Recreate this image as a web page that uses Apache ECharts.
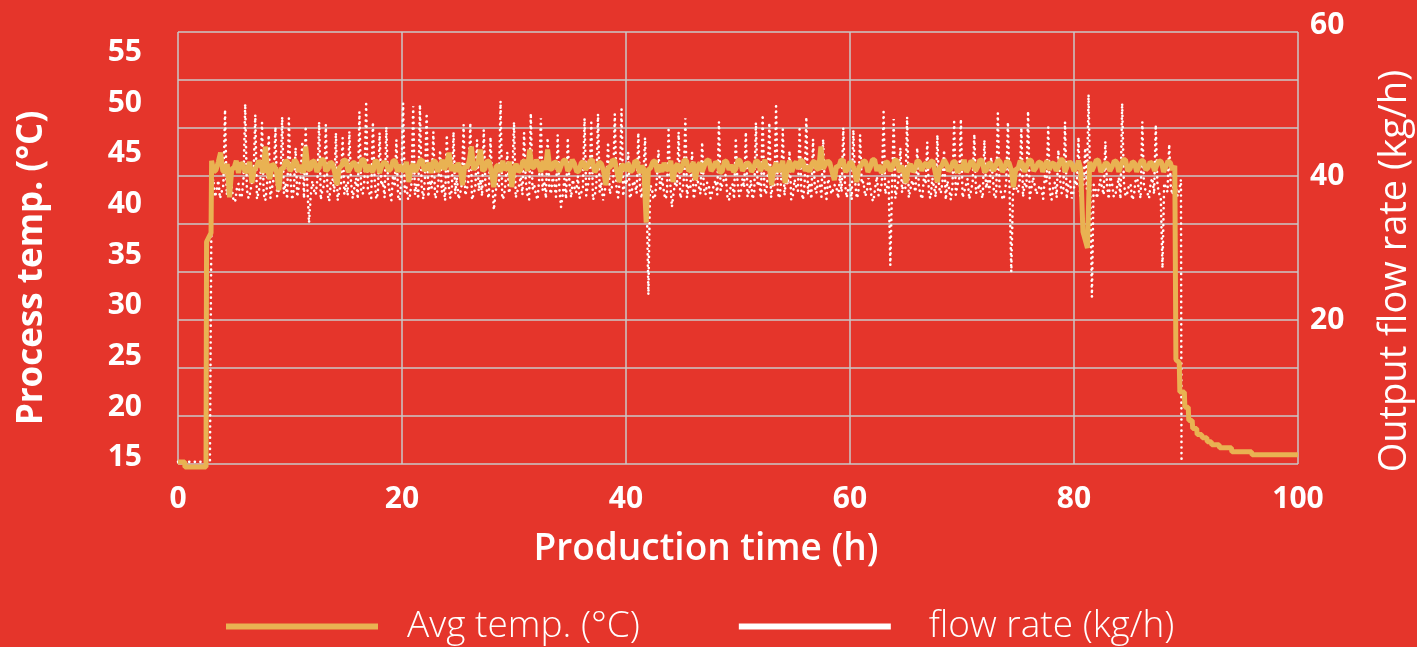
<!DOCTYPE html>
<html>
<head>
<meta charset="utf-8">
<title>Process temperature and output flow rate</title>
<script src="https://cdn.jsdelivr.net/npm/echarts@6/dist/echarts.min.js"></script>
<style>
    html, body { margin: 0; padding: 0; background: #e5352b; }
    #chart { width: 1417px; height: 647px; }
</style>
</head>
<body>
<div id="chart"></div>
<script>
// Avg temp. (°C): startup steps, regular plateau samples, shutdown steps
const tempStartup = [[0, 14.6], [0.6, 14.6], [0.62, 14.1], [2.5, 14.1], [2.55, 36.3], [2.95, 37.2]];
const TEMP_T0 = 3.0;   // h, first plateau sample
const TEMP_DT = 0.2;   // h between plateau samples
const tempPlateau = [
    44.3, 43.2, 43.4, 44.2, 45.1, 43.3, 43.2, 44.0, 40.7, 43.5, 43.6, 44.3, 43.1, 44.1, 43.9, 43.2, 43.3, 44.2, 42.1, 43.4,
    43.7, 44.3, 44.0, 43.1, 45.7, 43.4, 42.5, 44.0, 43.8, 43.2, 41.4, 43.6, 43.5, 44.3, 44.2, 43.3, 43.6, 44.4, 44.1, 43.2,
    43.9, 43.1, 45.7, 43.5, 43.4, 44.3, 44.2, 43.2, 43.7, 44.4, 44.4, 43.3, 43.5, 44.2, 44.0, 43.1, 41.9, 43.6, 43.8, 44.4,
    44.3, 43.2, 43.6, 44.1, 44.1, 43.3, 43.4, 44.4, 44.4, 43.2, 43.9, 43.4, 43.2, 44.3, 44.2, 43.1, 43.8, 44.2, 44.0, 43.3,
    43.5, 44.3, 44.3, 43.2, 43.9, 43.4, 43.3, 44.2, 42.2, 43.6, 44.0, 43.2, 43.7, 44.3, 44.4, 43.3, 43.6, 44.1, 43.1, 44.3,
    44.2, 43.2, 43.8, 44.4, 43.4, 44.1, 45.1, 43.3, 43.9, 43.2, 44.1, 43.5, 41.9, 43.8, 43.6, 44.3, 45.7, 43.4, 43.8, 44.2,
    45.4, 43.3, 43.5, 44.3, 44.2, 43.1, 41.7, 43.7, 43.9, 43.2, 44.3, 43.4, 43.6, 44.2, 41.7, 43.5, 44.0, 43.2, 43.4, 44.3,
    44.2, 43.3, 45.4, 43.6, 43.7, 44.4, 43.9, 43.2, 44.3, 43.4, 45.4, 43.5, 43.5, 44.2, 44.1, 43.2, 43.8, 44.3, 44.4, 43.3,
    43.6, 44.4, 44.0, 43.2, 43.3, 44.1, 44.2, 43.4, 43.8, 44.3, 44.4, 43.2, 43.5, 44.2, 44.0, 43.3, 41.9, 43.6, 43.7, 44.4,
    44.3, 43.2, 42.2, 43.8, 43.9, 43.3, 44.1, 43.2, 43.4, 44.3, 44.2, 43.1, 43.8, 43.5, 38.2, 43.4, 43.6, 44.2, 44.3, 43.2,
    43.9, 43.2, 44.1, 43.4, 43.5, 44.3, 42.2, 43.7, 44.0, 43.2, 43.7, 44.4, 44.3, 43.3, 43.4, 44.2, 42.4, 43.8, 44.1, 43.2,
    43.8, 44.3, 44.4, 43.3, 43.6, 44.2, 44.0, 43.1, 43.3, 44.3, 44.2, 43.4, 43.9, 43.2, 43.5, 44.4, 44.3, 43.3, 43.7, 44.1,
    44.0, 43.2, 43.6, 44.3, 44.2, 43.3, 43.8, 44.4, 43.4, 43.7, 41.9, 43.5, 44.1, 43.2, 43.7, 44.3, 42.1, 43.6, 44.3, 43.2,
    43.9, 44.2, 43.5, 44.4, 44.2, 43.3, 43.8, 43.2, 44.0, 44.3, 43.6, 43.4, 45.7, 43.5, 43.9, 44.3, 44.1, 43.2, 42.4, 43.8,
    43.7, 44.4, 44.3, 43.2, 43.5, 44.2, 44.0, 43.3, 42.2, 43.7, 43.8, 44.3, 44.2, 43.2, 43.6, 44.4, 44.4, 43.3, 43.9, 43.1,
    43.4, 44.2, 44.1, 43.3, 43.7, 44.4, 44.3, 43.2, 43.8, 43.4, 42.1, 43.6, 44.0, 43.2, 43.5, 44.3, 44.2, 43.3, 43.9, 44.1,
    43.6, 44.2, 44.3, 43.2, 42.2, 43.6, 43.8, 44.4, 44.0, 43.3, 43.5, 44.2, 44.2, 43.1, 43.9, 43.4, 44.4, 43.2, 43.6, 44.3,
    44.1, 43.3, 43.7, 44.4, 44.3, 43.2, 43.4, 44.1, 44.0, 43.3, 43.8, 44.4, 44.2, 43.2, 43.6, 44.3, 44.1, 43.4, 41.7, 43.5,
    43.5, 44.3, 44.0, 43.2, 43.8, 44.4, 44.3, 43.3, 43.6, 44.1, 44.2, 43.2, 43.9, 44.3, 43.4, 44.0, 44.1, 43.3, 43.7, 44.4,
    44.4, 43.2, 43.8, 44.2, 44.0, 43.3, 43.6, 44.3, 43.5, 37.3, 36.5, 35.7, 44.2, 43.3, 43.8, 44.4, 44.3, 43.2, 43.6, 44.1,
    44.0, 43.3, 43.7, 44.3, 44.2, 43.2, 43.9, 44.4, 44.4, 43.3, 43.5, 44.2, 44.1, 43.2, 43.8, 44.3, 44.3, 43.4, 43.6, 44.2,
    44.0, 43.3, 43.9, 44.3, 44.2, 43.2, 43.7, 44.3, 44.1, 43.4, 43.8
];
const tempShutdown = [
    [89.1, 24.7], [89.4, 24.4], [89.45, 21.5], [89.85, 21.5], [89.9, 20.0], [90.2, 20.0], [90.25, 18.7],
    [90.55, 18.7], [90.6, 17.9], [90.95, 17.9], [91.0, 17.3], [91.4, 17.3], [91.45, 17.0], [91.85, 17.0],
    [91.9, 16.6], [92.25, 16.6], [92.3, 16.3], [92.95, 16.3], [93.0, 16.0], [94.05, 16.0], [94.1, 15.6],
    [95.85, 15.6], [95.9, 15.3], [100, 15.3]
];

// flow rate (kg/h): startup, regular running samples, stop
const flowStartup = [[0, 0.3], [2.85, 0.3]];
const FLOW_T0 = 3.0;
const FLOW_DT = 0.15;
const flowRun = [
    38.2, 39.6, 37.1, 38.0, 39.4, 36.9, 36.8, 38.7, 49.2, 37.4, 37.6, 39.9, 39.8, 36.7, 36.4, 38.2, 38.9, 37.0, 37.3, 39.5,
    50.0, 38.1, 36.9, 37.7, 39.1, 40.2, 48.5, 36.8, 37.8, 39.0, 47.4, 37.5, 36.6, 38.6, 45.7, 36.9, 38.4, 39.7, 46.8, 37.2,
    37.2, 38.9, 48.2, 37.6, 39.0, 36.8, 48.0, 39.4, 36.7, 38.3, 43.9, 37.1, 38.6, 39.8, 44.8, 36.9, 46.9, 38.5, 33.5, 37.3,
    39.3, 38.0, 37.4, 39.6, 47.5, 36.7, 38.1, 38.8, 47.1, 37.4, 36.5, 39.2, 39.6, 37.8, 46.0, 36.6, 37.9, 38.9, 45.3, 37.5,
    38.8, 37.3, 46.2, 39.1, 36.9, 38.4, 39.7, 36.8, 48.9, 37.9, 37.5, 39.5, 50.0, 38.2, 38.3, 36.9, 47.5, 39.8, 36.8, 37.6,
    46.0, 38.7, 39.2, 37.0, 46.8, 39.3, 37.7, 36.6, 40.1, 38.5, 45.0, 37.2, 36.6, 39.9, 50.1, 37.8, 38.5, 36.7, 37.2, 39.0,
    49.7, 37.4, 38.9, 36.8, 49.9, 38.6, 36.8, 39.7, 48.7, 37.1, 39.4, 38.3, 46.1, 36.9, 37.3, 39.2, 43.6, 37.8, 38.7, 36.6,
    45.7, 39.0, 36.9, 38.1, 46.1, 37.5, 39.8, 36.8, 37.6, 38.9, 47.1, 37.3, 38.2, 39.6, 47.4, 36.7, 36.5, 38.4, 45.0, 37.9,
    39.5, 37.2, 46.4, 38.8, 37.8, 36.9, 45.4, 39.4, 35.3, 37.7, 39.0, 38.5, 50.4, 36.8, 37.1, 39.1, 43.3, 37.6, 38.6, 40.0,
    47.5, 37.0, 36.9, 38.7, 39.9, 37.4, 46.0, 39.3, 37.4, 36.7, 48.7, 38.2, 38.8, 37.5, 36.7, 39.6, 48.0, 38.0, 39.3, 36.9,
    45.3, 38.6, 37.5, 39.8, 38.9, 37.1, 45.7, 38.3, 35.7, 37.4, 39.6, 36.8, 45.3, 38.9, 37.0, 39.5, 38.4, 37.7, 40.0, 36.9,
    36.8, 38.4, 48.0, 37.3, 38.7, 39.9, 47.4, 36.7, 37.2, 38.6, 48.6, 37.8, 39.1, 36.6, 36.6, 39.2, 44.7, 37.5, 38.3, 38.9,
    48.6, 38.1, 37.0, 39.6, 49.3, 37.2, 39.5, 38.8, 43.3, 36.9, 37.7, 39.3, 38.9, 37.6, 46.0, 38.4, 36.9, 39.8, 45.3, 37.1,
    23.5, 38.7, 38.4, 36.8, 37.3, 39.4, 43.6, 37.9, 39.7, 38.2, 36.8, 37.3, 46.4, 39.0, 35.7, 37.7, 39.2, 38.6, 46.1, 36.9,
    37.6, 39.2, 48.0, 37.0, 38.8, 38.5, 43.3, 36.8, 36.7, 39.7, 39.9, 37.5, 44.7, 38.3, 37.4, 39.1, 38.6, 36.9, 36.9, 38.8,
    39.4, 37.4, 47.5, 38.0, 37.8, 39.6, 40.2, 37.2, 36.6, 38.6, 38.9, 36.8, 45.3, 39.3, 37.2, 37.8, 39.6, 38.4, 46.1, 37.1,
    38.0, 39.4, 36.8, 37.7, 47.4, 38.6, 39.3, 36.9, 48.5, 38.2, 37.5, 39.9, 47.4, 37.0, 38.7, 38.4, 49.7, 37.6, 36.9, 39.2,
    46.5, 37.3, 39.8, 38.8, 43.5, 36.7, 37.3, 39.5, 38.5, 37.9, 46.5, 38.1, 36.7, 39.0, 48.2, 37.4, 39.1, 36.8, 45.1, 38.6,
    37.6, 39.3, 38.9, 37.1, 45.1, 38.5, 36.8, 39.6, 39.7, 37.5, 37.4, 38.8, 38.3, 36.9, 40.1, 37.8, 46.7, 39.0, 37.0, 38.3,
    38.8, 36.7, 46.4, 39.4, 36.9, 37.6, 45.7, 38.9, 39.2, 37.2, 37.7, 39.7, 38.6, 36.8, 36.5, 38.4, 39.9, 37.3, 37.9, 39.1,
    48.9, 37.5, 38.4, 39.2, 27.6, 38.1, 47.9, 36.9, 37.1, 39.6, 43.9, 37.7, 39.5, 38.3, 48.2, 37.0, 36.8, 39.4, 38.7, 37.8,
    43.9, 38.6, 37.4, 36.8, 39.8, 38.9, 44.7, 37.3, 36.9, 39.7, 38.5, 37.1, 45.7, 38.4, 37.6, 39.0, 43.6, 36.7, 39.3, 38.2,
    36.7, 38.6, 47.5, 37.4, 38.8, 39.5, 47.9, 37.0, 37.2, 38.7, 39.6, 36.8, 36.6, 39.1, 45.8, 37.6, 38.1, 38.9, 37.5, 36.9,
    45.0, 38.3, 39.4, 37.7, 42.6, 39.8, 36.9, 37.2, 48.7, 38.5, 38.6, 36.7, 37.3, 39.3, 47.5, 38.0, 26.7, 37.5, 39.0, 38.8,
    37.7, 39.4, 46.7, 37.1, 38.9, 38.4, 49.0, 36.9, 36.8, 39.8, 39.7, 37.5, 37.4, 38.7, 38.2, 36.8, 40.0, 39.2, 46.8, 37.7,
    36.7, 38.5, 39.1, 37.0, 43.6, 39.6, 37.6, 38.1, 47.5, 36.8, 38.7, 39.3, 36.9, 37.8, 39.5, 38.6, 45.4, 37.2, 37.3, 39.0,
    43.9, 38.2, 51.3, 37.9, 23.2, 38.8, 38.4, 36.9, 37.0, 39.5, 39.6, 37.4, 44.8, 38.6, 36.8, 39.9, 38.9, 37.1, 37.5, 38.5,
    39.8, 36.8, 50.1, 39.2, 37.2, 37.6, 38.6, 38.9, 36.7, 37.3, 39.4, 39.7, 37.9, 36.9, 47.5, 38.4, 38.3, 37.7, 36.9, 39.1,
    39.7, 37.5, 47.1, 38.7, 37.6, 36.9, 27.2, 39.0, 38.8, 37.8, 44.4, 38.3, 37.4, 39.4, 39.2, 37.2, 38.1
];
const flowStop = [[89.55, 39.5], [89.6, 0.2]];

const xTicks = {min: 0, max: 100, interval: 20};
const tempTicks = [15, 20, 25, 30, 35, 40, 45, 50, 55];
const flowTicks = [20, 40, 60];

const RED = '#e5352b';
const GRID = '#c9c9c9';
const ORANGE = '#e9b252';
const FONT = '"Open Sans", "DejaVu Sans", sans-serif';

const tempData = tempStartup
    .concat(tempPlateau.map((v, i) => [+(TEMP_T0 + i * TEMP_DT).toFixed(2), v]))
    .concat(tempShutdown);
const flowData = flowStartup
    .concat(flowRun.map((v, i) => [+(FLOW_T0 + i * FLOW_DT).toFixed(2), v]))
    .concat(flowStop);

const tickLabel = {color: '#fff', fontSize: 30, fontWeight: 'bold', fontFamily: FONT};

const chart = echarts.init(document.getElementById('chart'));
chart.setOption({
    backgroundColor: RED,
    animation: false,
    textStyle: {fontFamily: FONT},
    // fixed plot box; names may run off the canvas edge like the original
    grid: {left: 178, right: 119, top: 32, bottom: 183, containLabel: false, outerBoundsMode: 'none'},
    legend: {
        left: 221,
        top: 603,
        icon: 'rect',
        itemWidth: 152,
        itemHeight: 6,
        itemGap: 99,
        itemStyle: {borderWidth: 0},
        textStyle: {color: '#fff', fontSize: 37, fontWeight: 300, fontFamily: FONT, padding: [0, 0, 0, 24]},
        data: [
            'Avg temp. (°C)',
            {name: 'flow rate (kg/h)', textStyle: {padding: [0, 0, 0, 33]}},
        ],
    },
    xAxis: {
        type: 'value',
        ...xTicks,
        axisLine: {show: false},
        axisTick: {show: false},
        splitLine: {show: true, lineStyle: {color: GRID, width: 1.5}},
        axisLabel: {...tickLabel, margin: 20},
        name: 'Production time (h)',
        nameLocation: 'middle',
        nameGap: 67,
        nameTextStyle: {color: '#fff', fontSize: 37, fontWeight: 600, fontFamily: FONT, padding: [0, 64, 0, 0]},
    },
    yAxis: [{
        type: 'value',
        position: 'left',
        min: 14.4,
        max: 57,
        axisLine: {show: false},
        axisTick: {show: false},
        splitLine: {show: false},
        axisLabel: {...tickLabel, margin: 36, customValues: tempTicks},
        name: 'Process temp. (°C)',
        nameLocation: 'middle',
        nameRotate: 90,
        nameGap: 128,
        nameTextStyle: {color: '#fff', fontSize: 35, fontWeight: 'bold', fontFamily: FONT, padding: [0, 40, 0, 0]},
    }, {
        type: 'value',
        position: 'right',
        min: 0,
        max: 60,
        axisLine: {show: false},
        axisTick: {show: false},
        splitLine: {show: false},
        axisLabel: {
            ...tickLabel,
            margin: 12,
            customValues: flowTicks,
            // top label sits a bit above the plot edge in the original
            formatter: v => v === 60 ? `{top|${v}}` : `${v}`,
            rich: {top: {...tickLabel, padding: [0, 0, 14, 0]}},
        },
        name: 'Output flow rate (kg/h)',
        nameLocation: 'middle',
        nameRotate: 90,
        nameGap: 78,
        nameTextStyle: {color: '#fff', fontSize: 38, fontWeight: 'normal', fontFamily: FONT, padding: [0, 46, 0, 0]},
    }, {
        // plot gridlines only: 9 equal bands
        type: 'value',
        position: 'left',
        min: 0,
        max: 9,
        interval: 1,
        axisLine: {show: false},
        axisTick: {show: false},
        axisLabel: {show: false},
        splitLine: {show: true, lineStyle: {color: GRID, width: 1.5}},
    }],
    series: [{
        name: 'Avg temp. (°C)',
        type: 'line',
        yAxisIndex: 0,
        data: tempData,
        symbol: 'none',
        color: ORANGE,
        lineStyle: {width: 5},
        clip: false,
        z: 3,
    }, {
        name: 'flow rate (kg/h)',
        type: 'line',
        yAxisIndex: 1,
        data: flowData,
        symbol: 'none',
        color: '#fff',
        lineStyle: {width: 2.6, type: [0.1, 5.5], cap: 'round'},
        z: 2,
    }],
});
</script>
</body>
</html>
